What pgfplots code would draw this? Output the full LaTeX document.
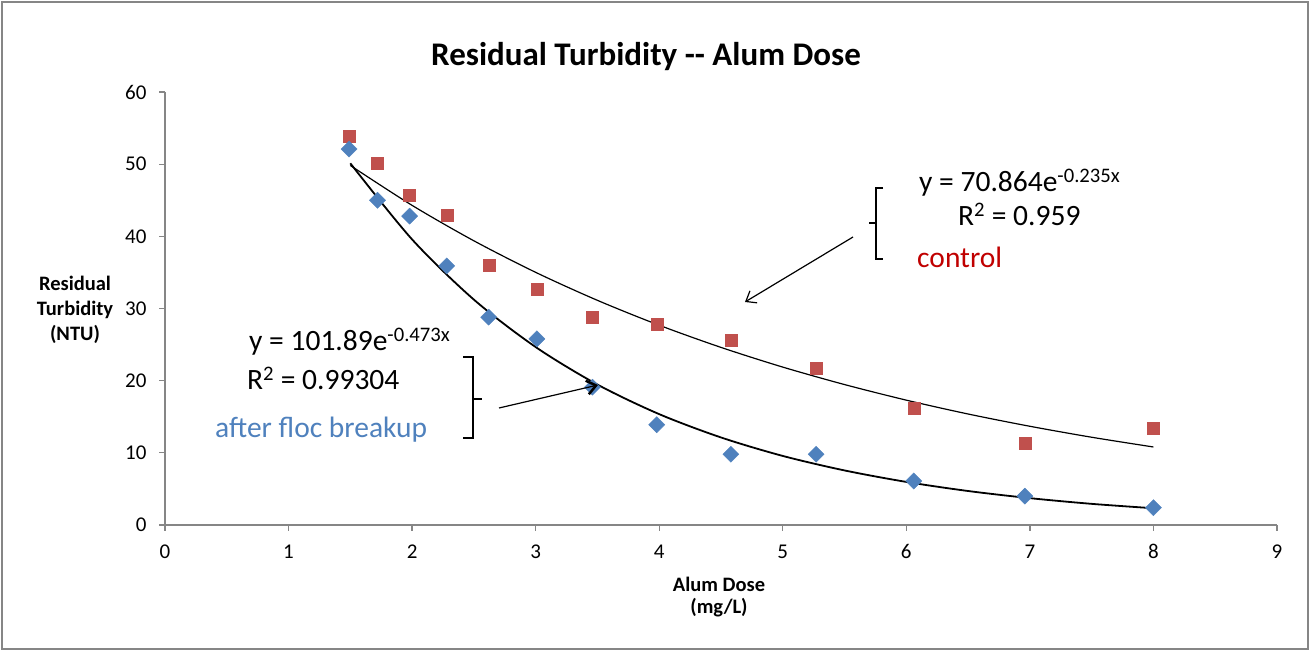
\documentclass[border=0pt]{standalone}
\usepackage{fontspec}
\setmainfont{Carlito}
\usepackage{pgfplots}
\pgfplotsset{compat=1.18}
\usetikzlibrary{arrows.meta}
\definecolor{ctrl}{RGB}{192,80,77}
\definecolor{floc}{RGB}{79,129,189}
\definecolor{ctrltxt}{RGB}{192,0,0}
\definecolor{axgray}{RGB}{134,134,134}

\pgfplotstableread{
x y
1.49 53.9
1.72 50.1
1.98 45.7
2.28 42.9
2.62 36.0
3.01 32.7
3.46 28.8
3.98 27.8
4.58 25.6
5.27 21.7
6.06 16.2
6.96 11.4
8.00 13.4
}\control
\pgfplotstableread{
x y
1.49 52.1
1.72 45.0
1.98 42.8
2.28 35.9
2.62 28.8
3.01 25.8
3.46 19.1
3.98 13.9
4.58 9.8
5.27 9.8
6.06 6.1
6.96 4.0
8.00 2.4
}\floc

\begin{document}
\begin{tikzpicture}[x=1pt,y=1pt]
\useasboundingbox (0,0) rectangle (1311,652);
\draw[axgray, line width=1.5pt] (2,3) rectangle (1308,650);
\begin{axis}[
  at={(165pt,127pt)}, anchor=south west,
  scale only axis, width=1112pt, height=433pt,
  xmin=0, xmax=9, ymin=0, ymax=60,
  axis lines*=left,
  axis line style={axgray, line width=1.3pt},
  xtick={0,1,...,9}, ytick={0,10,...,60},
  xticklabels={0,1,2,3,4,5,6,7,8,9},
  yticklabels={0,10,20,30,40,50,60},
  tick style={axgray, line width=1.3pt},
  tick align=outside, major tick length=6pt,
  xticklabel style={font=\fontsize{21}{24}\selectfont, text=black, yshift=-10pt},
  yticklabel style={font=\fontsize{21}{24}\selectfont, text=black, xshift=-9pt},
  clip=false,
]
\addplot[only marks, mark=square*, mark size=6pt, color=ctrl] table {\control};
\addplot[only marks, mark=square*, mark size=5.7pt, mark options={rotate=45}, color=floc] table {\floc};
\addplot[black, line width=1.2pt, smooth] coordinates {
(1.5,49.82) (2.0,44.29) (2.5,39.38) (3.0,35.01) (3.5,31.13) (4.0,27.68) (4.5,24.61)
(5.0,21.88) (5.5,19.46) (6.0,17.30) (6.5,15.38) (7.0,13.68) (7.5,12.16) (8.0,10.81)};
\addplot[black, line width=1.8pt, smooth] coordinates {
(1.5,50.12) (2.0,39.57) (2.5,31.23) (3.0,24.66) (3.5,19.46) (4.0,15.36) (4.5,12.13)
(5.0,9.57) (5.5,7.56) (6.0,5.97) (6.5,4.71) (7.0,3.72) (7.5,2.93) (8.0,2.32)};
\end{axis}
% title and axis labels
\node[font=\fontsize{33}{37}\selectfont\bfseries] at (646,595) {Residual Turbidity -{}- Alum Dose};
\node[font=\fontsize{20.5}{25}\selectfont\bfseries, align=center] at (75,342) {Residual\\Turbidity\\(NTU)};
\node[font=\fontsize{20.5}{22}\selectfont\bfseries, align=center] at (719,55) {Alum Dose\\(mg/L)};
% control annotation
\node[font=\fontsize{29.5}{34}\selectfont, anchor=west, inner sep=0pt] at (919,469) {y = 70.864e\textsuperscript{-0.235x}};
\node[font=\fontsize{29.5}{34}\selectfont, anchor=west, inner sep=0pt] at (958,438) {R\textsuperscript{2} = 0.959};
\node[font=\fontsize{29.5}{34}\selectfont, anchor=west, inner sep=0pt, text=ctrltxt] at (917,395) {control};
\draw[black, line width=1.2pt] (883,464)--(876,464)--(876,393)--(883,393) (876,429)--(869,429);
\draw[black, line width=1.2pt, -{Straight Barb[length=9pt,width=14pt]}] (853,415)--(745,350);
% floc annotation
\node[font=\fontsize{29.5}{34}\selectfont, anchor=west, inner sep=0pt] at (249,310) {y = 101.89e\textsuperscript{-0.473x}};
\node[font=\fontsize{29.5}{34}\selectfont, anchor=west, inner sep=0pt] at (247,274) {R\textsuperscript{2} = 0.99304};
\node[font=\fontsize{29.5}{34}\selectfont, anchor=west, inner sep=0pt, text=floc] at (215,222) {after floc breakup};
\draw[black, line width=1.2pt] (463,295)--(473,295)--(473,214)--(463,214) (473,253)--(482,253);
\draw[black, line width=1.2pt, -{Straight Barb[length=9pt,width=14pt,line width=2.5pt]}] (499,244)--(598,267);
\end{tikzpicture}
\end{document}
